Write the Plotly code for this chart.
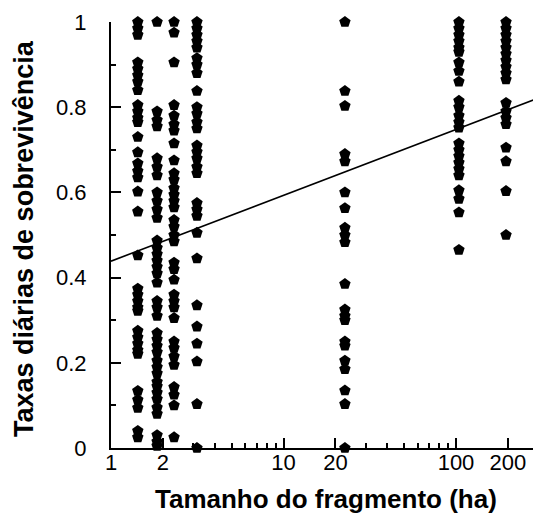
import math
import plotly.graph_objects as go

# fragment sizes (ha) of the sampled columns
frag_sizes = [1.43, 1.85, 2.32, 3.15, 22.7, 104, 195]

# daily survival rates per fragment
surv_1_43 = [1.0, 0.985, 0.97, 0.905, 0.89, 0.875, 0.86, 0.84, 0.805, 0.79, 0.775, 0.765,
             0.73, 0.694, 0.668, 0.65, 0.635, 0.602, 0.555, 0.452, 0.374, 0.36, 0.345, 0.33,
             0.322, 0.275, 0.26, 0.245, 0.23, 0.221, 0.134, 0.113, 0.094, 0.04, 0.025]
surv_1_85 = [1.0, 0.79, 0.77, 0.755, 0.68, 0.66, 0.64, 0.60, 0.58, 0.56, 0.54, 0.487, 0.47,
             0.455, 0.44, 0.425, 0.41, 0.388, 0.345, 0.33, 0.31, 0.27, 0.255, 0.24, 0.225,
             0.205, 0.19, 0.175, 0.155, 0.145, 0.13, 0.115, 0.095, 0.08, 0.03, 0.015, 0.005]
surv_2_32 = [1.0, 0.975, 0.905, 0.805, 0.78, 0.76, 0.745, 0.715, 0.675, 0.645, 0.63, 0.61,
             0.595, 0.58, 0.565, 0.535, 0.52, 0.50, 0.485, 0.435, 0.42, 0.395, 0.36, 0.345,
             0.33, 0.305, 0.25, 0.235, 0.215, 0.195, 0.143, 0.125, 0.1, 0.025]
surv_3_15 = [1.0, 0.985, 0.97, 0.955, 0.94, 0.915, 0.9, 0.88, 0.838, 0.8, 0.785, 0.765, 0.75,
             0.71, 0.695, 0.68, 0.66, 0.645, 0.575, 0.56, 0.545, 0.505, 0.445, 0.335, 0.285,
             0.245, 0.203, 0.103, 0.0]
surv_22_7 = [1.0, 0.838, 0.803, 0.69, 0.673, 0.60, 0.563, 0.517, 0.50, 0.483, 0.385, 0.325,
             0.31, 0.30, 0.25, 0.24, 0.205, 0.185, 0.135, 0.103, 0.0]
surv_104 = [1.0, 0.985, 0.97, 0.955, 0.94, 0.93, 0.905, 0.885, 0.86, 0.815, 0.80, 0.78, 0.765,
            0.752, 0.715, 0.70, 0.685, 0.67, 0.655, 0.64, 0.605, 0.585, 0.553, 0.465]
surv_195 = [1.0, 0.985, 0.97, 0.955, 0.94, 0.925, 0.91, 0.895, 0.88, 0.865, 0.81, 0.79, 0.775,
            0.76, 0.705, 0.673, 0.603, 0.50]

survival_columns = [surv_1_43, surv_1_85, surv_2_32, surv_3_15, surv_22_7, surv_104, surv_195]

# regression line: y = a + b*log10(x)
fit_x = [1, 311]
fit_a = 0.4386
fit_b = 0.1546

x_tickvals = [1, 2, 10, 20, 100, 200]
x_ticktext = ["1", "2", "10", "20", "100", "200"]
x_minor = [3, 4, 5, 6, 7, 8, 9, 30, 40, 50, 60, 70, 80, 90, 300]
y_tickvals = [0, 0.2, 0.4, 0.6, 0.8, 1.0]
y_ticktext = ["0", "0.2", "0.4", "0.6", "0.8", "1"]
y_minor = [0.1, 0.3, 0.5, 0.7, 0.9]

x_title = "Tamanho do fragmento (ha)"
y_title = "Taxas diárias de sobrevivência"

xs, ys = [], []
for size, col in zip(frag_sizes, survival_columns):
    xs += [size] * len(col)
    ys += col

fit_y = [fit_a + fit_b * math.log10(v) for v in fit_x]

fig = go.Figure()
fig.add_trace(go.Scatter(x=fit_x, y=fit_y, mode="lines",
                         line=dict(color="black", width=1.6), cliponaxis=True,
                         showlegend=False, hoverinfo="skip"))
fig.add_trace(go.Scatter(x=xs, y=ys, mode="markers",
                         marker=dict(symbol="pentagon", size=12, color="black",
                                     line=dict(width=0)),
                         cliponaxis=False, showlegend=False))

tick_font = dict(family="Liberation Sans, Arial, sans-serif", size=22, color="black")
title_font_x = dict(family="Liberation Sans, Arial, sans-serif", size=26, color="black",
                    weight="bold")
title_font_y = dict(family="Liberation Sans, Arial, sans-serif", size=27, color="black",
                    weight="bold")

# the page body adds an 8px offset, so the figure is sized to the visible area
fig.update_layout(
    width=533, height=509,
    margin=dict(l=103, r=0, t=14, b=69),
    paper_bgcolor="white", plot_bgcolor="white",
    xaxis=dict(type="log", range=[0, math.log10(311)], automargin=False,
               tickvals=x_tickvals, ticktext=x_ticktext,
               ticks="inside", ticklen=10, tickwidth=1.5, tickcolor="black",
               minor=dict(tickvals=x_minor, ticks="inside", ticklen=5,
                          tickwidth=1.5, tickcolor="black"),
               showline=True, linecolor="black", linewidth=2,
               showgrid=False, zeroline=False, tickfont=tick_font,
               ticklabelstandoff=-6),
    yaxis=dict(range=[0, 1.0], automargin=False,
               tickvals=y_tickvals, ticktext=y_ticktext,
               ticks="inside", ticklen=10, tickwidth=1.5, tickcolor="black",
               minor=dict(tickvals=y_minor, ticks="inside", ticklen=5,
                          tickwidth=1.5, tickcolor="black"),
               showline=True, linecolor="black", linewidth=2,
               showgrid=False, zeroline=False, tickfont=tick_font,
               ticklabelstandoff=18),
    annotations=[
        dict(text=x_title, xref="paper", yref="paper", x=0.5, y=0,
             xanchor="center", yanchor="middle", yshift=-51, showarrow=False,
             font=title_font_x),
        dict(text=y_title, xref="paper", yref="paper", x=0, y=0.5,
             xanchor="center", yanchor="middle", xshift=-87, yshift=-4,
             textangle=-90, showarrow=False, font=title_font_y),
    ],
)

fig.write_html("out.html")
